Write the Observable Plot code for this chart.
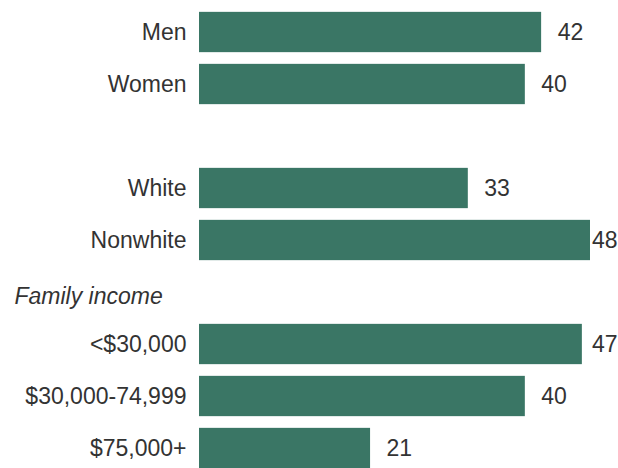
<!DOCTYPE html>
<html>
<head>
<meta charset="utf-8">
<script src="https://cdn.jsdelivr.net/npm/d3@7"></script>
<script src="https://cdn.jsdelivr.net/npm/@observablehq/plot@0.6"></script>
<style>
  html, body { margin: 0; padding: 0; background: #fff; overflow: hidden; }
  #chart svg { display: block; overflow: visible; }
</style>
</head>
<body>
<div id="chart"></div>
<script>
// Row keys (spacer rows keep the group gaps), their labels and values
const rowKeys   = ["men", "women", "gap1", "white", "nonwhite", "hdrIncome", "lt30", "30to75", "75plus"];
const rowLabels = ["Men", "Women", "", "White", "Nonwhite", "", "<$30,000", "$30,000-74,999", "$75,000+"];
const barKeys   = ["men", "women", "white", "nonwhite", "lt30", "30to75", "75plus"];
const barValues = [42, 40, 33, 48, 47, 40, 21];
const headerKeys   = ["hdrIncome"];
const headerLabels = ["Family income"];

const labelOf = new Map(rowKeys.map((k, i) => [k, rowLabels[i]]));
const bars = barKeys.map((k, i) => ({key: k, value: barValues[i]}));
const headers = headerKeys.map((k, i) => ({key: k, label: headerLabels[i]}));
const maxValue = d3.max(barValues);

const W = 618, H = 468;
const mL = 199, mR = 28;
const step = 52.7, top0 = 3.15;
const labelGap = 16, labelW = 27;
// a value label that would run past the right edge is pulled back to end at the edge
const fits = d => mL + d.value / maxValue * (W - mL - mR) + labelGap + labelW <= W;

const chart = Plot.plot({
  width: W,
  height: H,
  marginLeft: mL,
  marginRight: mR,
  marginTop: 0,
  marginBottom: 0,
  style: {fontFamily: "'Liberation Sans', Arial, sans-serif", fontSize: "23px", color: "#333", background: "#fff"},
  x: {domain: [0, maxValue], axis: null},
  y: {domain: rowKeys, range: [top0, top0 + step * rowKeys.length], padding: 0, label: null},
  marks: [
    Plot.axisY({
      label: null,
      tickSize: 0,
      tickPadding: 13,
      tickFormat: (k) => labelOf.get(k),
      fontSize: 23,
      fill: "#333"
    }),
    Plot.barX(bars, {x: "value", y: "key", fill: "#3a7665", insetTop: 5.85, insetBottom: 5.85}),
    Plot.text(bars.filter(fits), {
      x: "value", y: "key", text: d => String(d.value),
      textAnchor: "start", dx: labelGap, fill: "#333", fontSize: 23
    }),
    Plot.text(bars.filter(d => !fits(d)), {
      y: "key", text: d => String(d.value), frameAnchor: "right",
      textAnchor: "end", dx: mR - 1, fill: "#333", fontSize: 23
    }),
    Plot.text(headers, {
      y: "key", text: "label", frameAnchor: "left",
      textAnchor: "start", dx: -185, dy: 4, fill: "#333",
      fontSize: 23, fontStyle: "italic"
    })
  ]
});
document.getElementById("chart").append(chart);
</script>
</body>
</html>
